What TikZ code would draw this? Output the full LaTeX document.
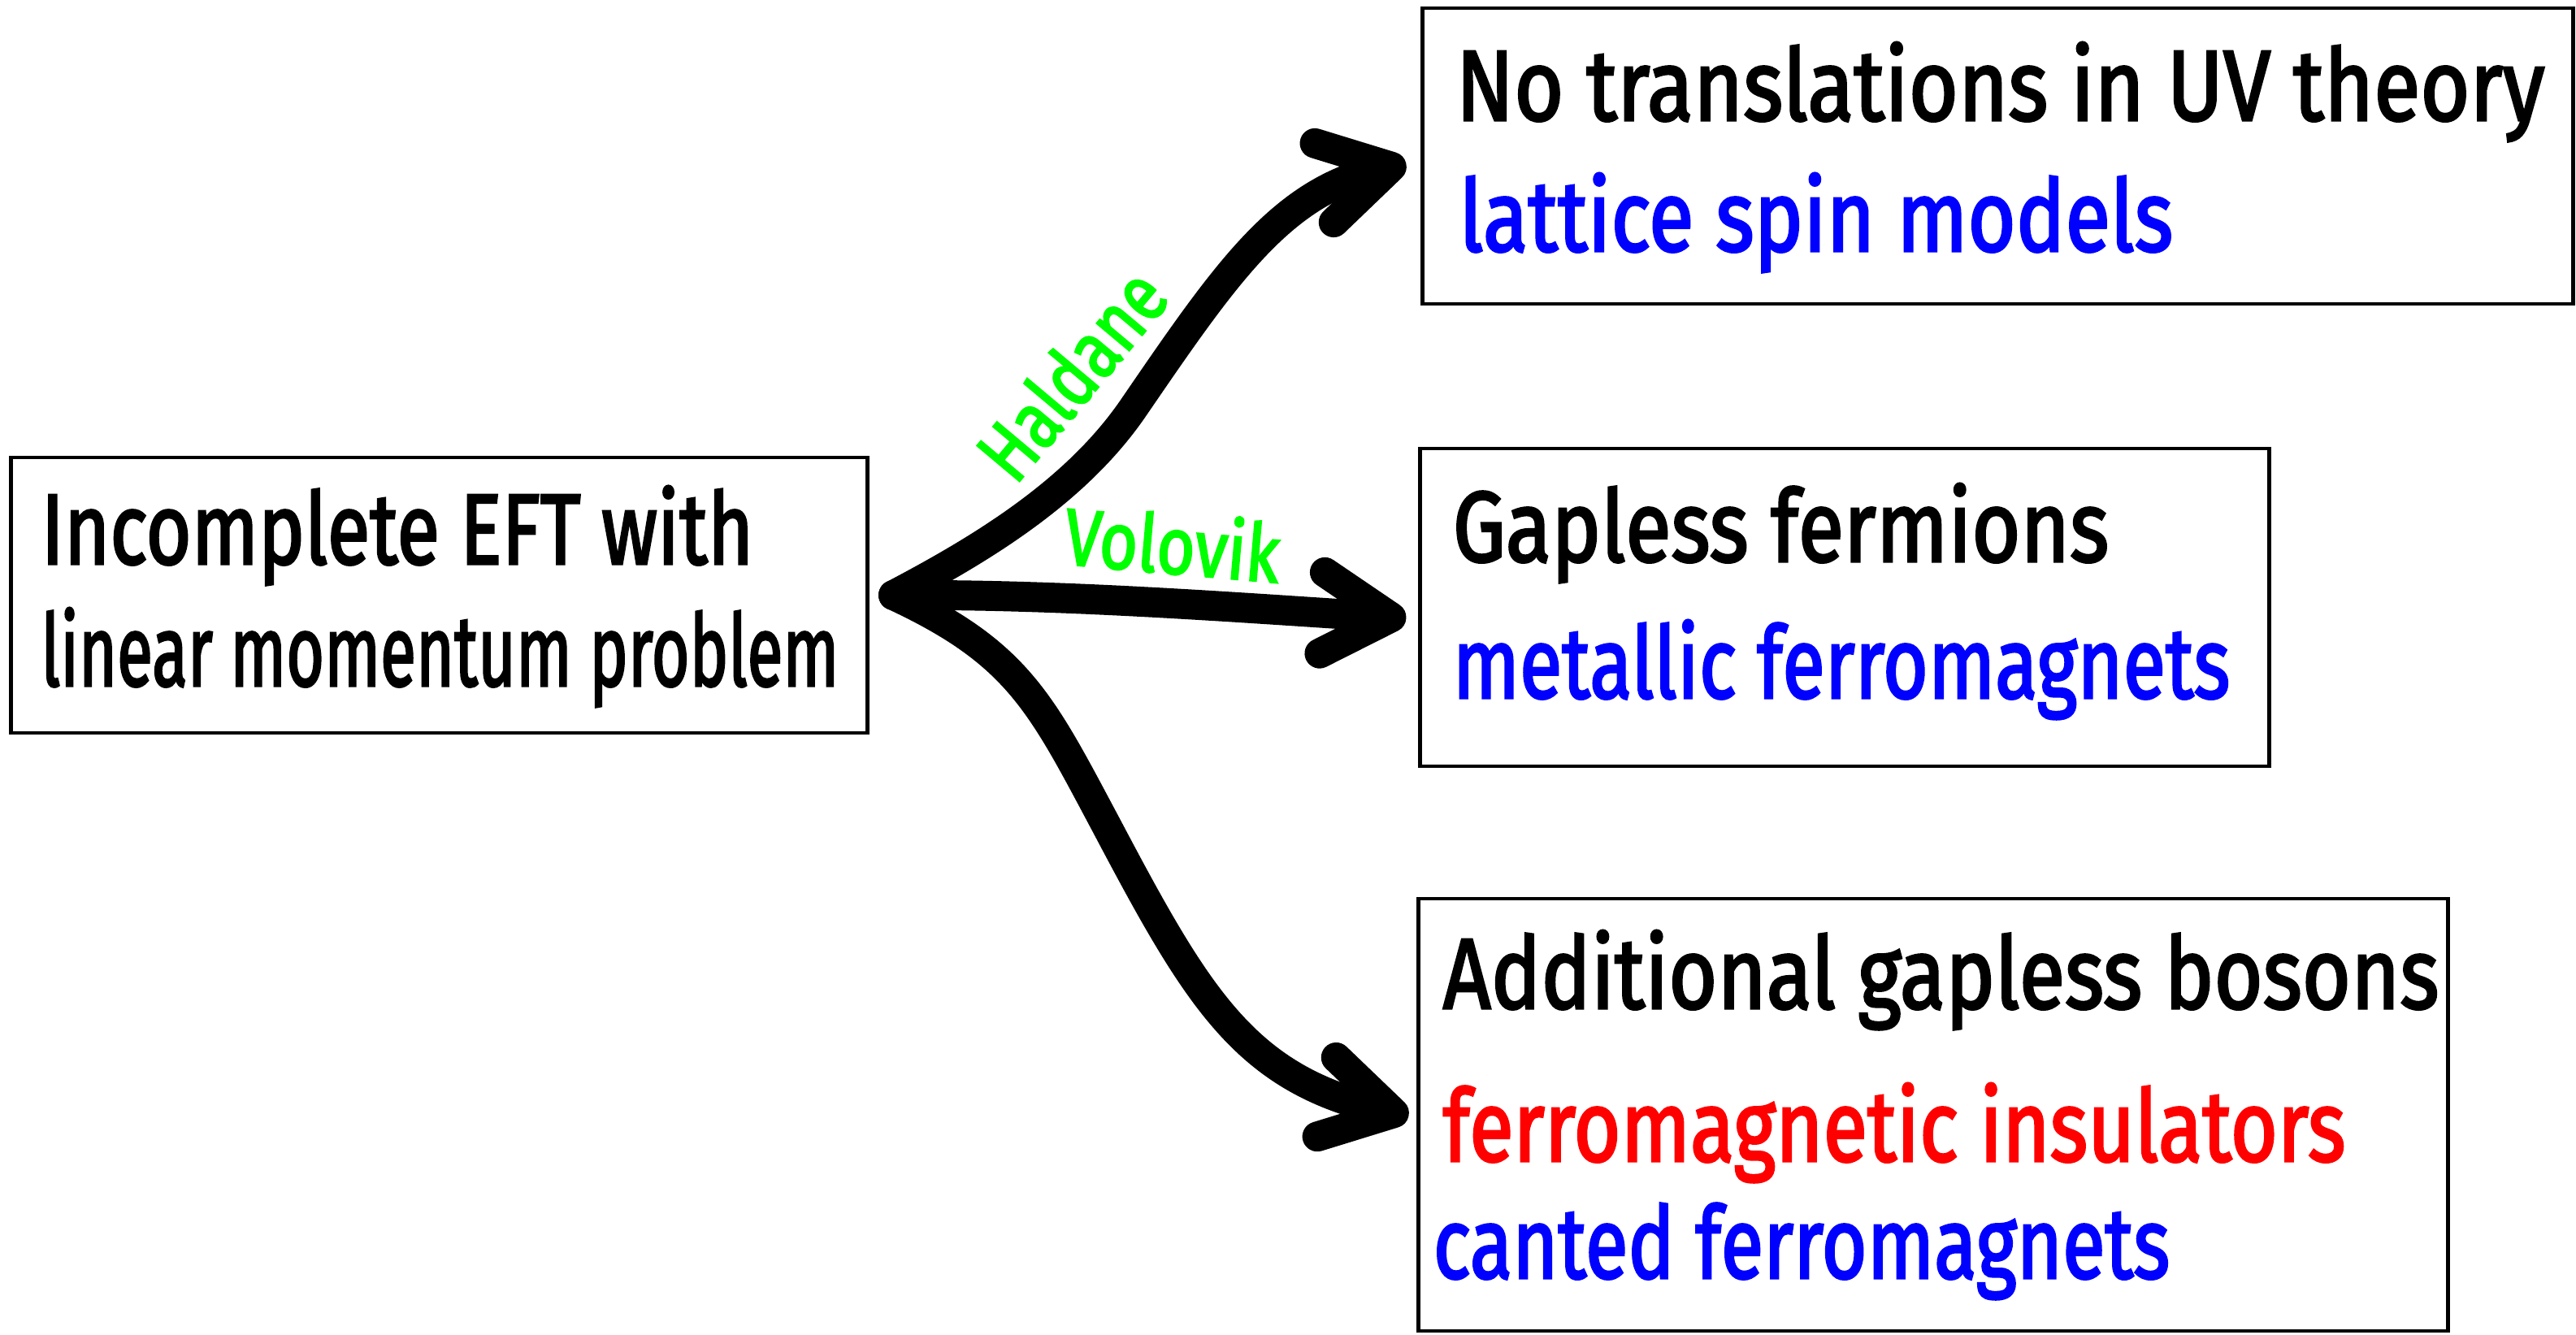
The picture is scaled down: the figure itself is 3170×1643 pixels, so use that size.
\documentclass[tikz,border=0pt]{standalone}
\usepackage{graphicx}
\usepackage{fontspec}
\setmainfont{Fira Sans}[FakeBold=2.5]
\usetikzlibrary{arrows.meta,calc}
\definecolor{hgreen}{RGB}{0,255,0}
\definecolor{hblue}{RGB}{0,0,255}
\definecolor{hred}{RGB}{255,0,0}
\newcommand{\fitw}[2]{\resizebox{#1}{\height}{#2}}
\begin{document}
\begin{tikzpicture}[x=0.01cm,y=-0.01cm,
  box/.style={draw, line width=1.3pt, rectangle, inner sep=0pt},
  txt/.style={anchor=base west, inner sep=0pt, font=\fontsize{35}{40}\selectfont},
  lbl/.style={inner sep=0pt, text=hgreen, font=\fontsize{28}{32}\selectfont},
  arr/.style={line width=10.5pt, line cap=round, line join=round,
    -{Straight Barb[length=8.5mm,width=10mm,round]}}]
\fill[white] (0,0) rectangle (3170,1643);
\useasboundingbox (0,0) rectangle (3170,1643);

% boxes
\node[box, minimum width=10.53cm, minimum height=3.39cm] (src) at (540.5,732.5) {};
\node[box, minimum width=14.15cm, minimum height=3.64cm] (top) at (2458.5,192) {};
\node[box, minimum width=10.44cm, minimum height=3.91cm] (mid) at (2270,747.5) {};
\node[box, minimum width=12.66cm, minimum height=5.32cm] (bot) at (2379,1372) {};

% texts
\node[txt] (s1) at (50,694) {\fitw{8.76cm}{Incomplete EFT with}};
\node[txt] (s2) at (50,844) {\fitw{9.81cm}{linear momentum problem}};
\node[txt] (t1) at (1791,148) {\fitw{13.39cm}{No translations in UV theory}};
\node[txt, text=hblue] (t2) at (1795,309) {\fitw{8.78cm}{lattice spin models}};
\node[txt] (m1) at (1787,691) {\fitw{8.07cm}{Gapless fermions}};
\node[txt, text=hblue] (m2) at (1787,859) {\fitw{9.56cm}{metallic ferromagnets}};
\node[txt] (b1) at (1775,1241) {\fitw{12.25cm}{Additional gapless bosons}};
\node[txt, text=hred] (b2) at (1775,1429) {\fitw{11.10cm}{ferromagnetic insulators}};
\node[txt, text=hblue] (b3) at (1763,1573) {\fitw{9.06cm}{canted ferromagnets}};

% labels
\node[lbl, rotate=50] (hal) at (1318,460) {\fitw{3.0cm}{Haldane}};
\node[lbl, rotate=-5] (vol) at (1443,668) {\fitw{2.65cm}{Volovik}};

% connectors
\coordinate (o) at ($(src.east)+(30,0)$);
\coordinate (e1) at ($(top.west)+(-18,9)$);
\coordinate (e2) at ($(mid.west)+(-15,13.5)$);
\coordinate (e3) at ($(bot.west)+(-10,2)$);
\draw[arr] (o) .. controls (1207,676) and (1323,606) .. (1394,503)
  .. controls (1507,338) and (1575,238) .. (e1);
\draw[arr] (o) .. controls (1300,731) and (1500,746) .. (e2);
\draw[arr] (o) .. controls (1253,804) and (1281,865) .. (1361,1015)
  .. controls (1473,1227) and (1531,1326) .. (e3);
\end{tikzpicture}
\end{document}
